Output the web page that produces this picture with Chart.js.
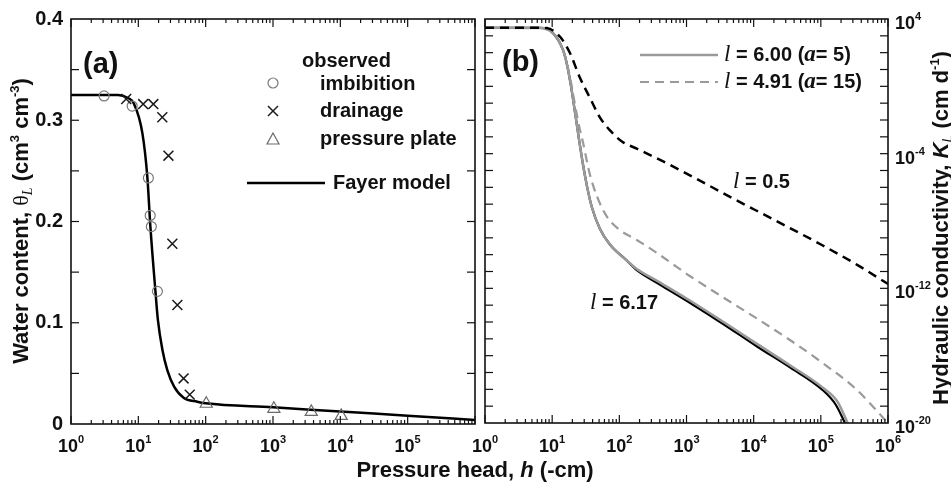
<!DOCTYPE html>
<html>
<head>
<meta charset="utf-8">
<script src="https://cdn.jsdelivr.net/npm/chart.js@4.4.0/dist/chart.umd.min.js"></script>
<style>
body{margin:0;background:#fff;}
#marco{position:relative;width:951px;height:485px;}
#marco canvas{position:absolute;left:0;top:0;}
</style>
</head>
<body>
<div id="marco">
<canvas id="graficoA" width="951" height="485"></canvas>
<canvas id="graficoB" width="951" height="485"></canvas>
</div>
<script>
// ---- panel (a): water content vs pressure head
var hModelo = [1, 5, 7, 8.5, 11.5, 13.6, 15.1, 17.9, 19.5, 22.8, 27, 34, 47, 75, 100, 1000, 10000, 100000, 1000000];
var thetaModelo = [0.325, 0.325, 0.322, 0.317, 0.287, 0.244, 0.195, 0.132, 0.103, 0.073, 0.053, 0.037, 0.026, 0.022, 0.0205, 0.0165, 0.0123, 0.0082, 0.004];

var hImbibicion = [3.1, 8.1, 14.1, 15, 15.6, 19.2];
var thetaImbibicion = [0.324, 0.314, 0.243, 0.206, 0.195, 0.131];

var hDrenaje = [6.6, 11.8, 16.7, 22.7, 28, 32, 38, 47, 58];
var thetaDrenaje = [0.321, 0.316, 0.316, 0.303, 0.265, 0.178, 0.1175, 0.045, 0.029];

var hPlaca = [102, 1030, 3700, 10300];
var thetaPlaca = [0.020, 0.015, 0.012, 0.008];

// ---- panel (b): hydraulic conductivity vs pressure head
var hL05 = [1, 6.6, 8.3, 13.2, 18.4, 25.7, 36, 51, 72, 112, 182, 562, 1410, 4900, 19500, 107000, 347000, 1000000];
var kL05 = [3.0e3, 3.0e3, 2.9e3, 8.5e2, 9.5e1, 3.5, 2.3e-1, 1.5e-2, 2.5e-3, 4.9e-4, 2.0e-4, 2.2e-5, 3.2e-6, 2.2e-7, 1.26e-8, 3.5e-10, 2.5e-11, 1.8e-12];

var hL600 = [1, 6.6, 10.2, 14.5, 16.6, 19.1, 21.9, 25.1, 28.8, 33.1, 38.9, 51.3, 72.4, 129, 182, 400, 1120, 3470, 11200, 34700, 107000, 178000, 251000];
var kL600 = [3.0e3, 2.95e3, 1.5e3, 1.45e2, 2.0e1, 1.0, 2.8e-2, 7.1e-4, 2.2e-5, 1.1e-6, 6.8e-8, 3.5e-9, 4.0e-10, 4.5e-11, 1.41e-11, 2.24e-12, 1.9e-13, 1.07e-14, 5.0e-16, 2.7e-17, 1.26e-18, 1.8e-19, 1.0e-20];

var hL617 = [1, 6.6, 10.2, 14.5, 16.6, 19.1, 21.9, 25.1, 28.8, 33.1, 38.9, 51.3, 72.4, 129, 182, 400, 1120, 3470, 11200, 34700, 107000, 166000, 229000];
var kL617 = [3.0e3, 2.95e3, 1.5e3, 1.45e2, 2.0e1, 1.0, 2.8e-2, 7.1e-4, 2.2e-5, 1.1e-6, 6.8e-8, 3.5e-9, 4.0e-10, 4.5e-11, 1.2e-11, 1.7e-12, 1.4e-13, 7.9e-15, 3.5e-16, 2.0e-17, 8.9e-19, 1.26e-19, 1.0e-20];

var hL491 = [1, 6.6, 10.2, 14.5, 18.6, 21.4, 25, 29, 36, 47, 66, 102, 182, 363, 724, 1120, 3470, 11200, 34700, 107000, 347000, 832000, 1000000];
var kL491 = [3.0e3, 2.95e3, 1.5e3, 1.5e2, 3.0, 1.3e-1, 5.0e-3, 4.0e-4, 7.0e-6, 2.6e-7, 1.7e-8, 2.9e-9, 7.4e-10, 1.26e-10, 1.8e-11, 5.4e-12, 3.0e-13, 1.6e-14, 8.5e-16, 3.6e-17, 9.0e-19, 2.2e-20, 1.0e-20];

// ---- tick labels
var xTicks = [1, 10, 100, 1000, 10000, 100000, 1000000];
var xTickExp = ["0", "1", "2", "3", "4", "5", "6"];
var yTicksA = [0, 0.1, 0.2, 0.3, 0.4];
var yTickTextoA = ["0", "0.1", "0.2", "0.3", "0.4"];
var yTicksB = [1e4, 1e-4, 1e-12, 1e-20];
var yTickExpB = ["4", "-4", "-12", "-20"];

var SANS = "'Liberation Sans', Arial, Helvetica, sans-serif";
var SERIF = "'Liberation Serif', 'Times New Roman', serif";

function puntos(xs, ys){
	return xs.map(function(x, i){ return {x: x, y: ys[i]}; });
}

function linea(ctx, x1, y1, x2, y2){
	ctx.beginPath();
	ctx.moveTo(x1, y1);
	ctx.lineTo(x2, y2);
	ctx.stroke();
}

// draws a run of [text, font, dy] pieces on one line
function texto(ctx, partes, x, y, align){
	var total = 0;
	partes.forEach(function(p){ ctx.font = p[1]; total += ctx.measureText(p[0]).width; });
	var cx = x;
	if (align === 'center') cx = x - total / 2;
	if (align === 'right') cx = x - total;
	ctx.textAlign = 'left';
	ctx.textBaseline = 'middle';
	partes.forEach(function(p){
		ctx.font = p[1];
		ctx.fillText(p[0], cx, y + (p[2] || 0));
		cx += ctx.measureText(p[0]).width;
	});
}

function potencia(ctx, exp, x, y, align){
	texto(ctx, [["10", "bold 18px " + SANS, 0], [exp, "bold 11px " + SANS, -7]], x, y, align);
}

function marcasX(ctx, sx, area){
	for (var d = 0; d <= 6; d++) {
		for (var m = 1; m <= 9; m++) {
			var v = m * Math.pow(10, d);
			if (v > sx.max * 1.0001) break;
			var px = sx.getPixelForValue(v);
			var largo = (m === 1) ? 8 : 4;
			linea(ctx, px, area.bottom, px, area.bottom - largo);
			linea(ctx, px, area.top, px, area.top + largo);
		}
	}
}

function marco(ctx, area){
	ctx.lineWidth = 1.6;
	ctx.strokeStyle = '#111';
	ctx.strokeRect(area.left, area.top, area.right - area.left, area.bottom - area.top);
}

var decoA = {
	id: 'decoA',
	afterDraw: function(chart){
		var ctx = chart.ctx, area = chart.chartArea;
		var sx = chart.scales.x, sy = chart.scales.y;
		ctx.save();
		marco(ctx, area);
		ctx.lineWidth = 1.2;
		marcasX(ctx, sx, area);
		for (var i = 1; i < 8; i++) {
			var py = sy.getPixelForValue(i * 0.05);
			linea(ctx, area.left, py, area.left + 8, py);
			linea(ctx, area.right, py, area.right - 8, py);
		}
		ctx.fillStyle = '#111';
		yTicksA.forEach(function(v, i){
			texto(ctx, [[yTickTextoA[i], "bold 20px " + SANS]], area.left - 8, sy.getPixelForValue(v), 'right');
		});
		xTicks.forEach(function(v, i){
			if (i < xTicks.length - 1) potencia(ctx, xTickExp[i], sx.getPixelForValue(v), 447, 'center');
		});
		// axis titles
		texto(ctx, [["Pressure head, ", "bold 22px " + SANS], ["h", "italic bold 22px " + SANS], [" (-cm)", "bold 22px " + SANS]], 475, 471, 'center');
		ctx.save();
		ctx.translate(22, 221);
		ctx.rotate(-Math.PI / 2);
		texto(ctx, [
			["Water content, ", "bold 22px " + SANS],
			["\u03b8", "22px " + SERIF],
			["L", "italic 14px " + SERIF, 6],
			[" (cm", "bold 22px " + SANS],
			["3", "bold 13px " + SANS, -7],
			[" cm", "bold 22px " + SANS],
			["-3", "bold 13px " + SANS, -7],
			[")", "bold 22px " + SANS]
		], 0, 0, 'center');
		ctx.restore();
		// panel label and legend
		texto(ctx, [["(a)", "bold 29px " + SANS]], 83, 65, 'left');
		texto(ctx, [["observed", "bold 20px " + SANS]], 302, 61, 'left');
		texto(ctx, [["imbibition", "bold 20px " + SANS]], 320, 84, 'left');
		texto(ctx, [["drainage", "bold 20px " + SANS]], 320, 111, 'left');
		texto(ctx, [["pressure plate", "bold 20px " + SANS]], 320, 139, 'left');
		texto(ctx, [["Fayer model", "bold 20px " + SANS]], 333, 183, 'left');
		ctx.lineWidth = 1.2;
		ctx.strokeStyle = '#7a7a7a';
		ctx.beginPath(); ctx.arc(273, 83, 5, 0, Math.PI * 2); ctx.stroke();
		ctx.strokeStyle = '#1a1a1a';
		ctx.lineWidth = 1.5;
		linea(ctx, 268, 106, 278, 116);
		linea(ctx, 268, 116, 278, 106);
		ctx.strokeStyle = '#6a6a6a';
		ctx.lineWidth = 1.2;
		ctx.beginPath(); ctx.moveTo(273, 133); ctx.lineTo(279, 144); ctx.lineTo(267, 144); ctx.closePath(); ctx.stroke();
		ctx.strokeStyle = '#000';
		ctx.lineWidth = 2.5;
		linea(ctx, 247, 183, 325, 183);
		ctx.restore();
	}
};

var decoB = {
	id: 'decoB',
	afterDraw: function(chart){
		var ctx = chart.ctx, area = chart.chartArea;
		var sx = chart.scales.x, sy = chart.scales.y;
		ctx.save();
		marco(ctx, area);
		ctx.lineWidth = 1.2;
		marcasX(ctx, sx, area);
		for (var d = -19; d <= 3; d++) {
			var py = sy.getPixelForValue(Math.pow(10, d));
			linea(ctx, area.left, py, area.left + 8, py);
			linea(ctx, area.right, py, area.right - 8, py);
		}
		ctx.fillStyle = '#111';
		xTicks.forEach(function(v, i){
			potencia(ctx, xTickExp[i], sx.getPixelForValue(v), 447, 'center');
		});
		yTicksB.forEach(function(v, i){
			potencia(ctx, yTickExpB[i], area.right + 7, sy.getPixelForValue(v) + 5, 'left');
		});
		ctx.save();
		ctx.translate(942, 228);
		ctx.rotate(-Math.PI / 2);
		texto(ctx, [
			["Hydraulic conductivity, ", "bold 22px " + SANS],
			["K", "italic bold 22px " + SANS],
			["L", "italic 14px " + SANS, 6],
			[" (cm d", "bold 22px " + SANS],
			["-1", "bold 13px " + SANS, -7],
			[")", "bold 22px " + SANS]
		], 0, 0, 'center');
		ctx.restore();
		texto(ctx, [["(b)", "bold 29px " + SANS]], 502, 63, 'left');
		// legend
		ctx.strokeStyle = '#9a9a9a';
		ctx.lineWidth = 2.5;
		linea(ctx, 640, 55, 718, 55);
		ctx.setLineDash([9, 6]);
		ctx.lineWidth = 2.2;
		linea(ctx, 640, 82, 718, 82);
		ctx.setLineDash([]);
		texto(ctx, [["l", "italic 23px " + SERIF], [" = 6.00 (", "bold 20px " + SANS], ["a", "italic bold 23px " + SERIF], ["= 5)", "bold 20px " + SANS]], 724, 55, 'left');
		texto(ctx, [["l", "italic 23px " + SERIF], [" = 4.91 (", "bold 20px " + SANS], ["a", "italic bold 23px " + SERIF], ["= 15)", "bold 20px " + SANS]], 724, 82, 'left');
		texto(ctx, [["l", "italic 23px " + SERIF], [" = 0.5", "bold 20px " + SANS]], 733, 182, 'left');
		texto(ctx, [["l", "italic 23px " + SERIF], [" = 6.17", "bold 20px " + SANS]], 590, 303, 'left');
		ctx.restore();
	}
};

new Chart(document.getElementById('graficoA').getContext('2d'), {
	type: 'scatter',
	data: {
		datasets: [
			{
				label: 'Fayer model',
				data: puntos(hModelo, thetaModelo),
				showLine: true,
				borderColor: '#000',
				borderWidth: 2.5,
				pointRadius: 0,
				cubicInterpolationMode: 'monotone',
				order: 3
			},
			{
				label: 'imbibition',
				data: puntos(hImbibicion, thetaImbibicion),
				pointStyle: 'circle',
				pointRadius: 5,
				borderColor: '#7a7a7a',
				backgroundColor: 'rgba(0,0,0,0)',
				borderWidth: 1.2,
				order: 1
			},
			{
				label: 'drainage',
				data: puntos(hDrenaje, thetaDrenaje),
				pointStyle: 'crossRot',
				pointRadius: 7,
				borderColor: '#1a1a1a',
				borderWidth: 1.5,
				order: 0
			},
			{
				label: 'pressure plate',
				data: puntos(hPlaca, thetaPlaca),
				pointStyle: 'triangle',
				pointRadius: 7,
				borderColor: '#6a6a6a',
				backgroundColor: 'rgba(0,0,0,0)',
				borderWidth: 1.2,
				order: 2
			}
		]
	},
	options: {
		responsive: false,
		animation: false,
		layout: {padding: {left: 71, right: 476, top: 19, bottom: 61}},
		plugins: {legend: {display: false}, tooltip: {enabled: false}},
		scales: {
			x: {type: 'logarithmic', min: 1, max: 1000000, display: false},
			y: {type: 'linear', min: 0, max: 0.4, display: false}
		}
	},
	plugins: [decoA]
});

new Chart(document.getElementById('graficoB').getContext('2d'), {
	type: 'scatter',
	data: {
		datasets: [
			{
				label: 'l = 0.5',
				data: puntos(hL05, kL05),
				showLine: true,
				borderColor: '#000',
				borderWidth: 2.5,
				borderDash: [9, 6],
				pointRadius: 0,
				cubicInterpolationMode: 'monotone',
				order: 0
			},
			{
				label: 'l = 6.00 (a = 5)',
				data: puntos(hL600, kL600),
				showLine: true,
				borderColor: '#9a9a9a',
				borderWidth: 2.5,
				pointRadius: 0,
				cubicInterpolationMode: 'monotone',
				order: 1
			},
			{
				label: 'l = 4.91 (a = 15)',
				data: puntos(hL491, kL491),
				showLine: true,
				borderColor: '#9a9a9a',
				borderWidth: 2.2,
				borderDash: [9, 6],
				pointRadius: 0,
				cubicInterpolationMode: 'monotone',
				order: 2
			},
			{
				label: 'l = 6.17',
				data: puntos(hL617, kL617),
				showLine: true,
				borderColor: '#000',
				borderWidth: 2.2,
				pointRadius: 0,
				cubicInterpolationMode: 'monotone',
				order: 3
			}
		]
	},
	options: {
		responsive: false,
		animation: false,
		layout: {padding: {left: 485, right: 63, top: 19, bottom: 62}},
		plugins: {legend: {display: false}, tooltip: {enabled: false}},
		scales: {
			x: {type: 'logarithmic', min: 1, max: 1000000, display: false},
			y: {type: 'logarithmic', min: 1e-20, max: 1e4, display: false}
		}
	},
	plugins: [decoB]
});
</script>
</body>
</html>
